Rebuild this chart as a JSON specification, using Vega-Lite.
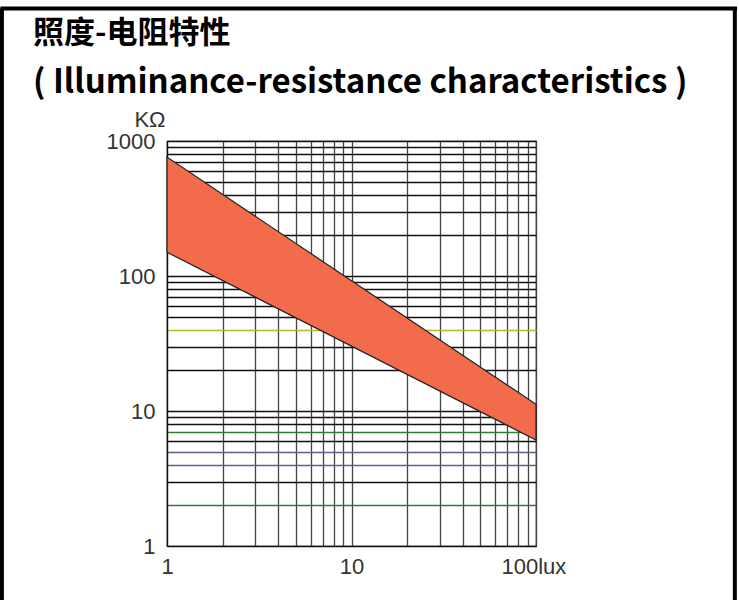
{
  "$schema": "https://vega.github.io/schema/vega-lite/v6.json",
  "width": 369,
  "height": 405,
  "autosize": {"type": "none"},
  "padding": {"left": 167, "top": 141, "right": 203, "bottom": 54},
  "background": "white",
  "title": {
    "text": "照度-电阻特性",
    "subtitle": "( Illuminance-resistance characteristics )",
    "anchor": "start",
    "frame": "group",
    "dx": -134,
    "dy": 103,
    "offset": 9,
    "font": "Noto Sans CJK SC",
    "fontSize": 31,
    "fontWeight": "bold",
    "color": "black",
    "subtitleFont": "Noto Sans CJK SC",
    "subtitleFontSize": 33,
    "subtitleFontWeight": "bold",
    "subtitleColor": "black",
    "subtitlePadding": 17
  },
  "config": {
    "view": {"stroke": "#111", "strokeWidth": 1.2},
    "axis": {
      "labelFont": "Liberation Sans",
      "labelFontSize": 22,
      "labelColor": "#333",
      "ticks": false,
      "domainColor": "#111",
      "domainWidth": 1.2,
      "gridWidth": 1.3,
      "gridOpacity": 1,
      "zindex": 1
    }
  },
  "datasets": {
    "band": [
      {"lux": 1, "low": 150, "high": 760},
      {"lux": 100, "low": 6.1, "high": 11.2}
    ],
    "frame": [
      {"x": 0.125, "x2": 1230, "y": 9570, "y2": 9570},
      {"x": 0.1274, "x2": 0.1274, "y": 9570, "y2": 0.398},
      {"x": 1196, "x2": 1196, "y": 9570, "y2": 0.398}
    ]
  },
  "layer": [
    {
      "data": {"name": "band"},
      "mark": {"type": "area", "color": "#f26b4b", "opacity": 1, "stroke": "#222", "strokeWidth": 1.2},
      "encoding": {
        "x": {
          "field": "lux", "type": "quantitative",
          "scale": {"type": "log", "domain": [1, 100], "nice": false},
          "axis": {
            "title": null,
            "values": [1, 2, 3, 4, 5, 6, 7, 8, 9, 10, 20, 30, 40, 50, 60, 70, 80, 90, 100],
            "labelExpr": "datum.value == 1 ? '1' : datum.value == 10 ? '10' : datum.value == 100 ? '100lux' : ''",
            "labelFlush": false,
            "labelOverlap": false,
            "labelPadding": 10,
            "labelAlign": {"condition": {"test": "datum.value == 100", "value": "left"}, "value": "center"},
            "labelOffset": {"condition": {"test": "datum.value == 100", "value": -35}, "value": 0},
            "gridColor": "#444"
          }
        },
        "y": {
          "field": "low", "type": "quantitative",
          "scale": {"type": "log", "domain": [1, 1000], "nice": false},
          "axis": {
            "title": "KΩ",
            "titleAngle": 0,
            "titleFont": "Liberation Sans",
            "titleFontSize": 22,
            "titleFontWeight": "normal",
            "titleColor": "#333",
            "titleAnchor": "end",
            "titleAlign": "right",
            "titleBaseline": "bottom",
            "titleX": -2,
            "titleY": -10,
            "values": [1, 2, 3, 4, 5, 6, 7, 8, 9, 10, 20, 30, 40, 50, 60, 70, 80, 90, 100, 200, 300, 400, 500, 600, 700, 800, 900, 1000],
            "labelExpr": "datum.value == 1 ? '1' : datum.value == 10 ? '10' : datum.value == 100 ? '100' : datum.value == 1000 ? '1000' : ''",
            "labelOverlap": false,
            "labelFlush": false,
            "labelPadding": 12,
            "gridColor": {"condition": [
              {"test": "datum.value == 2 || datum.value == 7", "value": "#2e7d32"},
              {"test": "datum.value == 4 || datum.value == 5", "value": "#6a5a8c"},
              {"test": "datum.value == 40", "value": "#b5b536"}
            ], "value": "#111"}
          }
        },
        "y2": {"field": "high"}
      }
    },
    {
      "data": {"name": "frame"},
      "mark": {"type": "rule", "color": "black", "strokeWidth": 4, "clip": false},
      "encoding": {
        "x": {"field": "x", "type": "quantitative"},
        "x2": {"field": "x2"},
        "y": {"field": "y", "type": "quantitative"},
        "y2": {"field": "y2"}
      }
    }
  ]
}
